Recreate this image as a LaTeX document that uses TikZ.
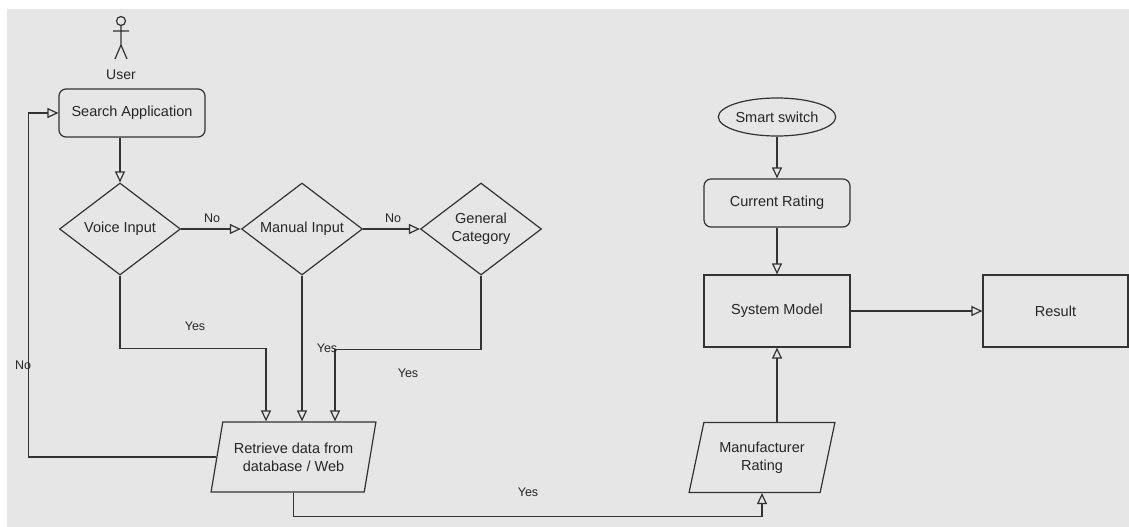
\documentclass[tikz,border=0pt]{standalone}
\usepackage{fontspec}
\setmainfont{Liberation Sans}
\usetikzlibrary{arrows.meta,shapes.geometric}
\definecolor{canvas}{HTML}{E6E6E6}
\definecolor{ink}{HTML}{333333}
\tikzset{
    box/.style={draw=ink, line width=1.2pt, minimum width=146pt, inner sep=0pt, font=\fontsize{14.5}{18}\selectfont, text=black!85, align=center},
    roundbox/.style={box, rounded corners=7pt, minimum height=48pt},
    decision/.style={box, diamond, aspect=1.3, minimum width=121pt, minimum height=92pt},
    datain/.style={box, trapezium, trapezium left angle=71, trapezium right angle=109, trapezium stretches, minimum height=70pt},
    terminal/.style={box, ellipse, minimum width=107pt, minimum height=38pt},
    flow/.style={draw=ink, line width=1.2pt, -{Triangle[open, length=11pt, width=10pt]}},
    edgelabel/.style={font=\fontsize{12.5}{15}\selectfont, text=black!85},
}
\begin{document}
\begin{tikzpicture}[x=1pt, y=-1pt]
    \useasboundingbox (0,0) rectangle (1129,527);
    \fill[canvas] (7,9) rectangle (1129,527);
    \draw[ink, line width=1.2pt] (121,21) circle[radius=4.5pt];
    \draw[ink, line width=1.2pt] (121,25.5) -- (121,45) (113,31) -- (129,31) (115,59) -- (121,45) -- (127,59);
    \node[edgelabel, font=\fontsize{14}{17}\selectfont] (user) at (121,75) {User};
    \node[roundbox] (search) at (132,113) {Search Application};
    \node[decision] (voice) at (120,229) {Voice Input};
    \node[decision] (manual) at (302,229) {Manual Input};
    \node[decision] (general) at (481,229) {General\\Category};
    \node[datain, minimum width=165pt] (retrieve) at (293.5,457) {Retrieve data from\\database / Web};
    \node[terminal] (smart) at (777,117) {Smart switch};
    \node[roundbox] (current) at (777,203) {Current Rating};
    \node[box, minimum height=72pt] (system) at (777,311) {System Model};
    \node[box, minimum width=145pt, minimum height=72pt] (result) at (1055.5,311) {Result};
    \node[datain, minimum width=146pt] (manuf) at (762,457.5) {Manufacturer\\Rating};
    \coordinate (in1) at ([xshift=-27.5pt]retrieve.north);
    \coordinate (in3) at ([xshift=41.5pt]retrieve.north);
    \draw[flow] (search.south -| voice.north) -- (voice.north);
    \draw[flow] (voice.east) -- (manual.west);
    \draw[flow] (manual.east) -- (general.west);
    \draw[flow] (voice.south) -- ++(0,73) -| (in1);
    \draw[flow] (manual.south) -- (manual.south |- retrieve.north);
    \draw[flow] (general.south) -- ++(0,74) -| (in3);
    \draw[flow] (retrieve.left side) -- ++(-188,0) |- (search.west);
    \draw[flow] (retrieve.center |- retrieve.bottom side) -- ++(0,24) -| (manuf.center |- manuf.bottom side);
    \draw[flow] (smart) -- (current);
    \draw[flow] (current) -- (system);
    \draw[flow] (system) -- (result);
    \draw[flow] (system.south |- manuf.top side) -- (system.south);
    \node[edgelabel] (no1) at (212,218) {No};
    \node[edgelabel] (no2) at (393,218) {No};
    \node[edgelabel] (no3) at (23,365) {No};
    \node[edgelabel] (yes1) at (195,326) {Yes};
    \node[edgelabel] (yes2) at (327,348) {Yes};
    \node[edgelabel] (yes3) at (408,373) {Yes};
    \node[edgelabel] (yes4) at (528,492) {Yes};
\end{tikzpicture}
\end{document}
